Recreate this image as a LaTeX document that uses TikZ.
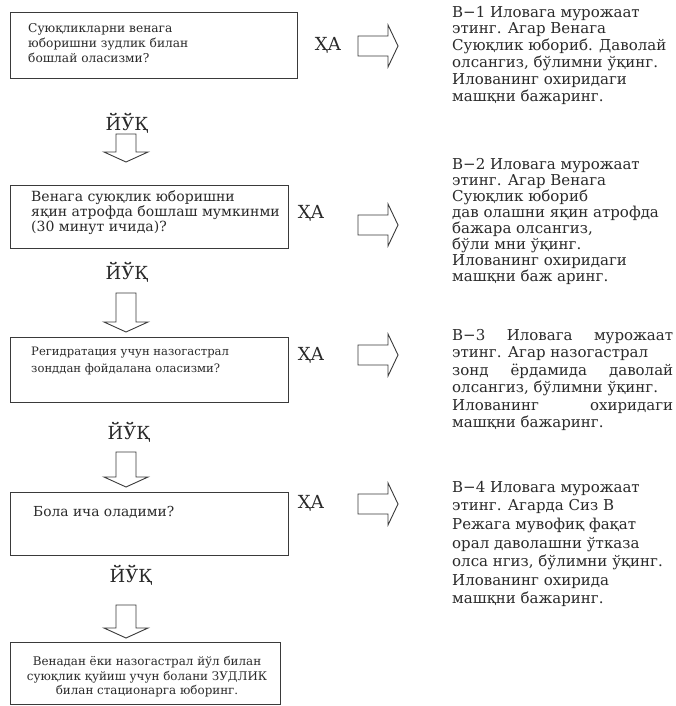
\documentclass[tikz,border=0pt]{standalone}
\usepackage{fontspec}
\setmainfont{DejaVu Serif}
\definecolor{ink}{HTML}{2a2a2a}
\definecolor{edge}{HTML}{3a3a3a}
\tikzset{
  qbox/.style={draw=edge, line width=1.1pt, rectangle, inner sep=0pt, anchor=north west},
  qtxt/.style={text=ink, inner sep=0pt, align=left, anchor=west},
  rtxt/.style={text=ink, inner sep=0pt, align=left, anchor=west},
  ans/.style={text=ink, inner sep=0pt, font=\fontsize{18}{20}\selectfont},
  arr/.style={draw=edge, line width=0.9pt, fill=white, line join=miter},
  pics/darrow/.style={code={
    \draw[arr] (-10,0) -- (10,0) -- (10,#1-10) -- (22,#1-10) -- (0,#1) -- (-22,#1-10) -- (-10,#1-10) -- cycle;}},
  pics/rarrow/.style={code={
    \draw[arr] (0,-10) -- (30,-10) -- (30,-21) -- (40,0) -- (30,21) -- (30,10) -- (0,10) -- cycle;}}
}
\begin{document}
\begin{tikzpicture}[x=1pt,y=-1pt]
\useasboundingbox (0,0) rectangle (675,706);
\fill[white] (0,0) rectangle (675,706);

% question boxes
\node[qbox, minimum width=287pt, minimum height=66pt] (b1) at (10,12) {};
\node[qbox, minimum width=278pt, minimum height=63pt] (b2) at (10,185) {};
\node[qbox, minimum width=278pt, minimum height=65pt] (b3) at (10,337) {};
\node[qbox, minimum width=278pt, minimum height=63pt] (b4) at (10,492) {};
\node[qbox, minimum width=270pt, minimum height=62pt] (b5) at (10,642) {};

% question texts
\node[qtxt, font=\fontsize{12.2}{15}\selectfont] (q1) at (28,43)
  {Суюқликларни венага\\юборишни зудлик билан\\бошлай оласизми?};
\node[qtxt, font=\fontsize{14}{15}\selectfont] (q2) at (31,213)
  {Венага суюқлик юборишни\\яқин атрофда бошлаш мумкинми\\(30 минут ичида)?};
\node[qtxt, font=\fontsize{11.6}{16.5}\selectfont] (q3) at (31,361)
  {Регидратация учун назогастрал\\зонддан фойдалана оласизми?};
\node[qtxt, font=\fontsize{13.8}{15}\selectfont] (q4) at (33,512)
  {Бола ича оладими?};
\node[qtxt, align=center, anchor=center, font=\fontsize{11.9}{14.5}\selectfont] (q5) at (147,677)
  {Венадан ёки назогастрал йўл билан\\суюқлик қуйиш учун болани ЗУДЛИК\\билан стационарга юборинг.};

% yes labels
\node[ans] (y1) at (328,45) {ҲА};
\node[ans] (y2) at (311,213) {ҲА};
\node[ans] (y3) at (311,355) {ҲА};
\node[ans] (y4) at (311,503) {ҲА};

% no labels
\node[ans] (n1) at (127,123) {ЙЎҚ};
\node[ans] (n2) at (127,272) {ЙЎҚ};
\node[ans] (n3) at (129,432) {ЙЎҚ};
\node[ans] (n4) at (131,575) {ЙЎҚ};

% block arrows
\pic at (358,46) {rarrow};
\pic at (358,225) {rarrow};
\pic at (358,355) {rarrow};
\pic at (358,504) {rarrow};
\pic at (126,134) {darrow=28};
\pic at (126,293) {darrow=39};
\pic at (126,452) {darrow=35};
\pic at (126,605) {darrow=33};

% right-hand texts
\node[rtxt, font=\fontsize{15}{16.8}\selectfont] (v1) at (452,55)
  {В−1 Иловага мурожаат\\этинг. Агар Венага\\Суюқлик юбориб. Даволай\\олсангиз, бўлимни ўқинг.\\Илованинг охиридаги\\машқни бажаринг.};
\node[rtxt, font=\fontsize{15}{16}\selectfont] (v2) at (452,221)
  {В−2 Иловага мурожаат\\этинг. Агар Венага\\Суюқлик юбориб\\дав олашни яқин атрофда\\бажара олсангиз,\\бўли мни ўқинг.\\Илованинг охиридаги\\машқни баж аринг.};
\node[rtxt, font=\fontsize{15}{17.4}\selectfont] (v3) at (452,380)
  {\makebox[221pt][s]{В−3 Иловага мурожаат}\\этинг. Агар назогастрал\\\makebox[221pt][s]{зонд ёрдамида даволай}\\олсангиз, бўлимни ўқинг.\\\makebox[221pt][s]{Илованинг охиридаги}\\машқни бажаринг.};
\node[rtxt, font=\fontsize{15}{18.6}\selectfont] (v4) at (452,544)
  {В−4 Иловага мурожаат\\этинг. Агарда Сиз В\\Режага мувофиқ фақат\\орал даволашни ўтказа\\олса нгиз, бўлимни ўқинг.\\Илованинг охирида\\машқни бажаринг.};
\end{tikzpicture}
\end{document}
